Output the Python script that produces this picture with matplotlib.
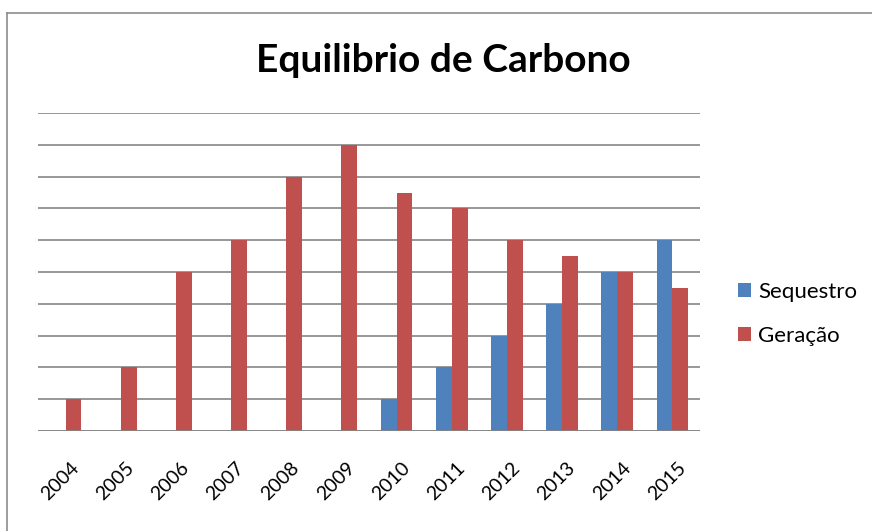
import matplotlib
matplotlib.use('Agg')
import matplotlib.pyplot as plt
import numpy as np
from matplotlib.lines import Line2D

years = ['2004', '2005', '2006', '2007', '2008', '2009',
         '2010', '2011', '2012', '2013', '2014', '2015']
sequestro = [0, 0, 0, 0, 0, 0, 1, 2, 3, 4, 5, 6]
geracao = [1, 2, 5, 6, 8, 9, 7.5, 7, 6, 5.5, 5, 4.5]

BLUE = '#4F81BD'
RED = '#C0504D'

plt.rcParams['font.family'] = ['Lato', 'DejaVu Sans']

fig = plt.figure(figsize=(8.72, 5.31), dpi=100)
ax = fig.add_axes([38 / 872, 100 / 531, 662 / 872, 318 / 531])

x = np.arange(len(years))
w = 1 / 3.5
ax.bar(x - w / 2, sequestro, w, color=BLUE, label='Sequestro', zorder=3)
ax.bar(x + w / 2, geracao, w, color=RED, label='Geração', zorder=3)

ax.set_xlim(-0.5, len(years) - 0.5)
ax.set_ylim(0, 10)
ax.set_yticks(np.arange(0, 11, 1))
ax.yaxis.grid(True, color='#868686', linewidth=1.2, zorder=0)
ax.tick_params(axis='y', length=0, labelleft=False)
ax.tick_params(axis='x', length=0, pad=20)
for s in ax.spines.values():
    s.set_visible(False)
ax.axhline(0, color='#868686', linewidth=1.2, zorder=4)

ax.set_xticks(x + 0.08)
ax.set_xticklabels(years, rotation=45, ha='right', rotation_mode='anchor',
                   fontsize=14)

fig.text(443 / 872, 1 - 60 / 531, 'Equilibrio de Carbono', ha='center',
         va='center', fontsize=28, fontweight='bold')

fig.legend(*ax.get_legend_handles_labels(), loc='center left',
           bbox_to_anchor=(718 / 872, 1 - 314 / 531), frameon=False,
           fontsize=16, handlelength=0.6, handleheight=0.6, handletextpad=0.3,
           labelspacing=1.1)

# chart frame (only top and left edges visible in the crop)
fig.add_artist(Line2D([7 / 872, 7 / 872], [0, 1 - 13 / 531],
                      color='#8c8c8c', linewidth=1.2, transform=fig.transFigure))
fig.add_artist(Line2D([7 / 872, 1], [1 - 13 / 531, 1 - 13 / 531],
                      color='#8c8c8c', linewidth=1.2, transform=fig.transFigure))

fig.savefig('out.png', dpi=100)
